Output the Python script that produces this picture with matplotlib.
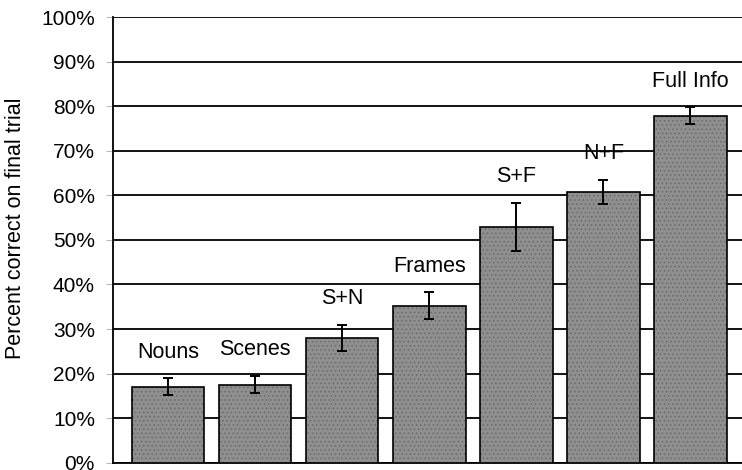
import matplotlib
matplotlib.use("Agg")
import matplotlib.pyplot as plt
from matplotlib.ticker import PercentFormatter

plt.rcParams["font.family"] = ["Liberation Sans", "DejaVu Sans"]
plt.rcParams["hatch.linewidth"] = 0.6

conditions = ["Nouns", "Scenes", "S+N", "Frames", "S+F", "N+F", "Full Info"]
pct_correct = [17.0, 17.5, 28.0, 35.2, 52.9, 60.7, 77.8]
std_err = [1.9, 1.9, 3.0, 3.0, 5.3, 2.7, 1.9]
y_ticks = list(range(0, 101, 10))

fig = plt.figure(figsize=(7.42, 4.70), dpi=100)
ax = fig.add_axes([0.1523, 0.0155, 0.8477, 0.9483])

x = list(range(len(conditions)))
ax.bar(x, pct_correct, width=0.833, color="#8f8f8f", edgecolor="#6a6a6a",
       linewidth=0, hatch="....", zorder=3)
ax.bar(x, pct_correct, width=0.833, facecolor="none", edgecolor="black",
       linewidth=1.2, zorder=4)

ax.errorbar(x, pct_correct, yerr=std_err, fmt="none", ecolor="black",
            elinewidth=1.4, capsize=3.3, capthick=1.4, zorder=5)

for xi, val, err, name in zip(x, pct_correct, std_err, conditions):
    ax.annotate(name, (xi, val + err), xytext=(0, 15), textcoords="offset points",
                ha="center", va="baseline", fontsize=15.5)

ax.set_ylim(0, 100)
ax.set_xlim(-0.632, 6.592)
ax.set_yticks(y_ticks)
ax.yaxis.set_major_formatter(PercentFormatter(decimals=0))
ax.set_xticks([])
ax.tick_params(axis="y", direction="out", length=5, width=0.8,
               color="#bbbbbb", labelsize=15, pad=8)
ax.yaxis.grid(True, color="black", linewidth=1.3, zorder=0)
ax.set_axisbelow(True)
for side in ("top", "right"):
    ax.spines[side].set_visible(False)
ax.spines["left"].set_linewidth(1.3)
ax.spines["bottom"].set_linewidth(1.3)

ax.set_ylabel("Percent correct on final trial", fontsize=15.5)
ax.yaxis.set_label_coords(-0.138, 0.525)

fig.savefig("out.png", dpi=100)
